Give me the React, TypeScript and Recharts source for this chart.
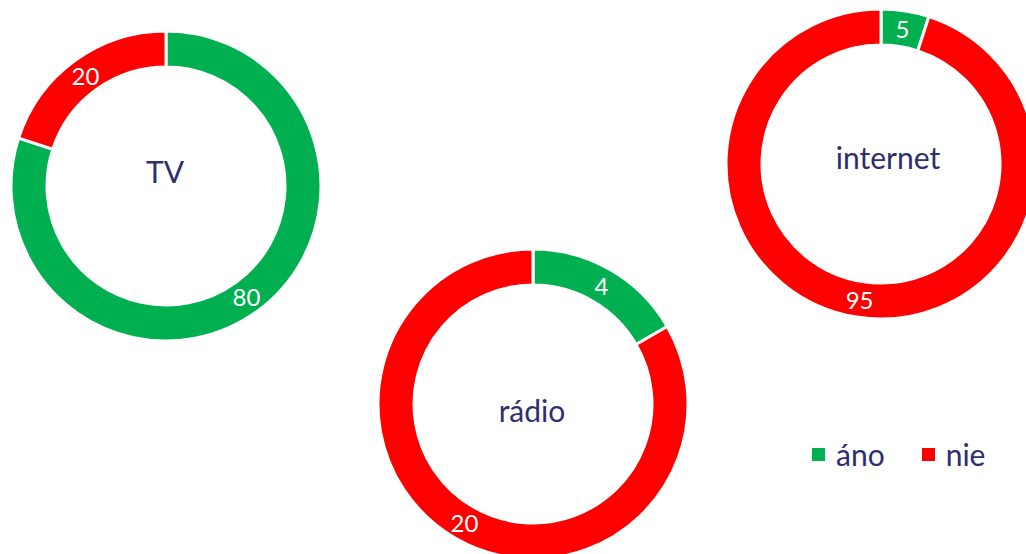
import { PieChart, Pie, Cell, Legend } from "recharts";

const categories = ["áno", "nie"];
const colors = ["#00b050", "#ff0000"];
const tvValues = [80, 20];
const internetValues = [5, 95];
const radioValues = [4, 20];

const toData = (values: number[]) =>
    categories.map((name, i) => ({ name, value: values[i] }));

const RADIAN = Math.PI / 180;
const textColor = "#2e2d6e";

// value in the middle of the ring, plus the pie's title in the hole
const makeLabel = (title: string, dx: number, dy: number) => (props: any) => {
    const { cx, cy, midAngle, innerRadius, outerRadius, value, index } = props;
    const r = (innerRadius + outerRadius) / 2;
    const x = cx + r * Math.cos(-midAngle * RADIAN);
    const y = cy + r * Math.sin(-midAngle * RADIAN);
    return (
        <g>
            <text
                x={x}
                y={y}
                fill="#ffffff"
                fontSize={24}
                fontFamily="Lato"
                textAnchor="middle"
                dominantBaseline="central"
            >
                {value}
            </text>
            {index === 0 && (
                <text
                    x={cx + dx}
                    y={cy + dy}
                    fill={textColor}
                    fontSize={30}
                    fontFamily="Lato"
                    textAnchor="middle"
                    dominantBaseline="central"
                >
                    {title}
                </text>
            )}
        </g>
    );
};

const LegendContent = () => (
    <div style={{ display: "flex", alignItems: "center", fontFamily: "Lato", fontSize: 30, color: textColor }}>
        {categories.map((c, i) => (
            <div key={c} style={{ display: "flex", alignItems: "center", marginRight: 37 }}>
                <span style={{ width: 13, height: 13, background: colors[i], display: "inline-block", marginRight: 11 }} />
                <span>{c}</span>
            </div>
        ))}
    </div>
);

const pies = [
    { key: "tv", title: "TV", values: tvValues, cx: 166, cy: 186, dx: -1, dy: -15 },
    { key: "internet", title: "internet", values: internetValues, cx: 881, cy: 164, dx: 7, dy: -7 },
    { key: "radio", title: "rádio", values: radioValues, cx: 533, cy: 404, dx: -1, dy: 6 },
];

export default function App() {
    return (
        <div style={{ position: "absolute", left: 0, top: 0, fontFamily: "Lato" }}>
            <PieChart width={1026} height={554} margin={{ top: 0, right: 0, bottom: 0, left: 0 }}>
                {pies.map((p) => (
                    <Pie
                        key={p.key}
                        data={toData(p.values)}
                        dataKey="value"
                        nameKey="name"
                        cx={p.cx}
                        cy={p.cy}
                        innerRadius={119}
                        outerRadius={155}
                        startAngle={90}
                        endAngle={-270}
                        stroke="#ffffff"
                        strokeWidth={3}
                        label={makeLabel(p.title, p.dx, p.dy)}
                        labelLine={false}
                        isAnimationActive={false}
                    >
                        {p.values.map((_, i) => (
                            <Cell key={i} fill={colors[i]} />
                        ))}
                    </Pie>
                ))}
                <Legend
                    layout="horizontal"
                    verticalAlign="middle"
                    align="center"
                    wrapperStyle={{ left: 812, top: 436, width: 214 }}
                    content={LegendContent}
                />
            </PieChart>
        </div>
    );
}
